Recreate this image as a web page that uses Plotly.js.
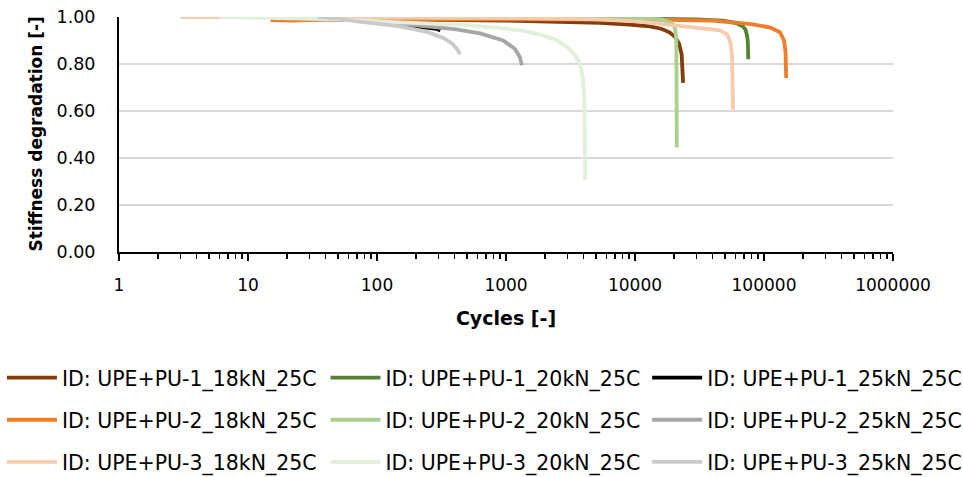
<!DOCTYPE html>
<html>
<head>
<meta charset="utf-8">
<script src="https://cdn.plot.ly/plotly-3.0.1.min.js"></script>
<style>html,body{margin:0;padding:0;background:#fff;}#chart{width:963px;height:477px;}</style>
</head>
<body>
<div id="chart"></div>
<script>
// Series names (legend order, row-major)
const names = [
  "ID: UPE+PU-1_18kN_25C", "ID: UPE+PU-1_20kN_25C", "ID: UPE+PU-1_25kN_25C",
  "ID: UPE+PU-2_18kN_25C", "ID: UPE+PU-2_20kN_25C", "ID: UPE+PU-2_25kN_25C",
  "ID: UPE+PU-3_18kN_25C", "ID: UPE+PU-3_20kN_25C", "ID: UPE+PU-3_25kN_25C"
];

// PU-1 18kN
const c_1_18 = [15, 50, 100, 300, 1000, 3000, 5350, 9000, 13000, 16000, 18500, 20500, 22000, 23000, 23400, 23600];
const s_1_18 = [0.99, 0.99, 0.99, 0.988, 0.985, 0.98, 0.975, 0.968, 0.96, 0.95, 0.935, 0.915, 0.885, 0.84, 0.78, 0.72];
// PU-1 20kN
const c_1_20 = [20, 1000, 10000, 30000, 48000, 60000, 68000, 72000, 74000, 75000, 75500];
const s_1_20 = [1.0, 0.997, 0.993, 0.99, 0.985, 0.975, 0.962, 0.945, 0.92, 0.89, 0.82];
// PU-1 25kN
const c_1_25 = [20, 60, 120, 224, 290, 310];
const s_1_25 = [1.0, 0.99, 0.975, 0.958, 0.95, 0.943];
// PU-2 18kN
const c_2_18 = [15, 22, 40, 1000, 10000, 40000, 80000, 112000, 133000, 143000, 147000, 148500];
const s_2_18 = [0.987, 0.985, 0.99, 0.99, 0.99, 0.985, 0.97, 0.955, 0.935, 0.9, 0.85, 0.74];
// PU-2 20kN
const c_2_20 = [20, 1000, 10000, 16000, 19400, 20500, 20900, 21000, 21100];
const s_2_20 = [1.0, 0.998, 0.995, 0.99, 0.975, 0.95, 0.9, 0.7, 0.445];
// PU-2 25kN
const c_2_25 = [20, 60, 100, 220, 400, 630, 950, 1170, 1280, 1330];
const s_2_25 = [1.0, 0.99, 0.982, 0.962, 0.948, 0.93, 0.9, 0.865, 0.83, 0.795];
// PU-3 18kN
const c_3_18 = [3, 6, 100, 1000, 5000, 10900, 22000, 32000, 45600, 52000, 55000, 56500, 57200, 57500];
const s_3_18 = [1.0, 1.0, 0.998, 0.996, 0.99, 0.98, 0.962, 0.952, 0.943, 0.925, 0.89, 0.84, 0.75, 0.605];
// PU-3 20kN
const c_3_20 = [6, 15, 50, 150, 500, 900, 1400, 1835, 2400, 2970, 3400, 3750, 3950, 4050, 4100, 4110];
const s_3_20 = [1.0, 0.997, 0.99, 0.977, 0.965, 0.953, 0.94, 0.925, 0.905, 0.874, 0.84, 0.8, 0.74, 0.65, 0.5, 0.305];
// PU-3 25kN
const c_3_25 = [35, 50, 73, 150, 243, 330, 385, 420, 440];
const s_3_25 = [1.0, 0.993, 0.98, 0.96, 0.937, 0.91, 0.885, 0.862, 0.84];

// Axis tick labels
const xTickVals = [1, 10, 100, 1000, 10000, 100000, 1000000];
const xTickText = ["1", "10", "100", "1000", "10000", "100000", "1000000"];
const yTickVals = [0, 0.2, 0.4, 0.6, 0.8, 1.0];
const yTickText = ["0.00", "0.20", "0.40", "0.60", "0.80", "1.00"];

const xs = [c_1_18, c_1_20, c_1_25, c_2_18, c_2_20, c_2_25, c_3_18, c_3_20, c_3_25];
const ys = [s_1_18, s_1_20, s_1_25, s_2_18, s_2_20, s_2_25, s_3_18, s_3_20, s_3_25];
const colors = ["#843C0C", "#548235", "#000000", "#F07D28", "#A9D18E", "#A8A5A5", "#F8CBAD", "#E2EFDA", "#CACACA"];
const legendIds = ["legend", "legend2", "legend3"];

const traces = names.map((n, i) => ({
  type: "scatter", mode: "lines", name: n,
  x: xs[i], y: ys[i],
  line: {color: colors[i], width: 3.8},
  legend: legendIds[i % 3],
  legendgroup: "g" + i
}));

const legFont = {family: "DejaVu Sans", size: 20.5, color: "#000"};
function leg(xc) {
  return {
    xref: "container", yref: "container", x: xc, y: 0.25,
    xanchor: "left", yanchor: "top", orientation: "v",
    font: legFont, bgcolor: "rgba(0,0,0,0)", borderwidth: 0,
    tracegroupgap: 12.5, itemwidth: 50, maxheight: 300
  };
}

const layout = {
  width: 963, height: 477,
  margin: {l: 119, r: 70, t: 17, b: 225, pad: 0, autoexpand: false},
  paper_bgcolor: "#fff", plot_bgcolor: "#fff",
  font: {family: "DejaVu Sans", color: "#000"},
  xaxis: {
    type: "log", range: [0, 6], automargin: false,
    tickvals: xTickVals, ticktext: xTickText,
    ticks: "outside", ticklen: 7, tickwidth: 1.5, tickcolor: "#000",
    minor: {ticks: "outside", ticklen: 5, tickwidth: 1.5, tickcolor: "#000", dtick: "D1", showgrid: false},
    showline: true, linecolor: "#000", linewidth: 2,
    showgrid: false, zeroline: false,
    tickfont: {family: "DejaVu Sans", size: 17, color: "#000"},
    ticklabelstandoff: 10,
    title: {text: "<b>Cycles [-]</b>", font: {family: "DejaVu Sans", size: 19, color: "#000"}, standoff: 17}
  },
  yaxis: {
    range: [0, 1], automargin: false,
    tickvals: yTickVals, ticktext: yTickText,
    ticks: "", showline: true, linecolor: "#000", linewidth: 2,
    showgrid: true, gridcolor: "#D9D9D9", gridwidth: 2, zeroline: false,
    tickfont: {family: "DejaVu Sans", size: 17.5, color: "#000"},
    ticklabelstandoff: 18
  },
  annotations: [{
    text: "<b>Stiffness degradation [-]</b>", textangle: -90,
    xref: "paper", yref: "paper", x: -0.1085, y: 0.5,
    xanchor: "center", yanchor: "middle", showarrow: false,
    font: {family: "DejaVu Sans", size: 17, color: "#000"}
  }],
  showlegend: true,
  legend: leg(0.002),
  legend2: leg(0.338),
  legend3: leg(0.672)
};

Plotly.newPlot("chart", traces, layout, {displayModeBar: false, staticPlot: true});
</script>
</body>
</html>
